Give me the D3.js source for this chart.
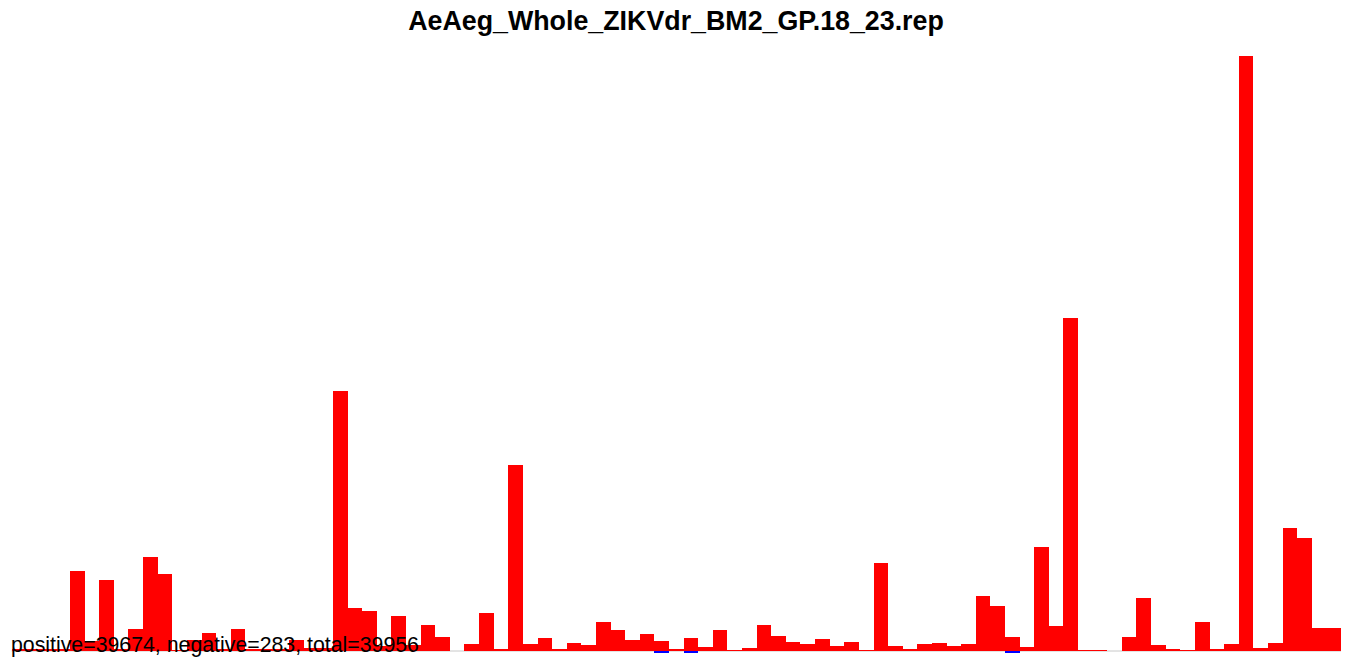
<!DOCTYPE html>
<html>
<head>
<meta charset="utf-8">
<script src="https://cdn.jsdelivr.net/npm/d3@7"></script>
<style>
  body { margin: 0; background: #fff; }
  svg { display: block; }
</style>
</head>
<body>
<div id="chart"></div>
<script>
// chart title and footer counts
const title = "AeAeg_Whole_ZIKVdr_BM2_GP.18_23.rep";
const summary = { positive: 39674, negative: 283, total: 39956 };

// positive (red) bar heights, one per bin
const positives = [
  2, 2, 2, 2, 80, 10, 71, 2, 22, 94,
  77, 1, 11, 18, 2, 22, 2, 2, 2, 11,
  3, 3, 260, 43, 40, 5, 35, 6, 26, 14,
  0, 7, 38, 2, 186, 7, 13, 2, 8, 6,
  29, 21, 11, 17, 10, 2, 13, 4, 21, 1,
  3, 26, 15, 9, 7, 12, 5, 9, 1, 88,
  5, 2, 7, 8, 5, 7, 55, 45, 14, 4,
  104, 25, 333, 1, 1, 0, 14, 53, 6, 2,
  1, 29, 2, 7, 595, 3, 8, 123, 113, 23,
  23
];

// negative (blue) bar depths, same bins
const negatives = [
  1, 1, 1, 1, 1, 1, 1, 1, 1, 1,
  1, 1, 1, 1, 1, 1, 1, 1, 1, 1,
  1, 1, 1, 1, 1, 1, 1, 1, 1, 1,
  0, 1, 1, 1, 1, 1, 1, 1, 1, 1,
  1, 1, 1, 1, 3, 1, 3, 1, 1, 1,
  1, 1, 1, 1, 1, 1, 1, 1, 1, 1,
  1, 1, 1, 1, 1, 1, 1, 1, 3, 1,
  1, 1, 1, 1, 1, 0, 1, 1, 1, 1,
  1, 1, 1, 1, 1, 1, 1, 1, 1, 1,
  1
];

const width = 1349, height = 657;
const baseline = 650.5;

const svg = d3.select("#chart").append("svg")
    .attr("width", width)
    .attr("height", height);

const x = d3.scaleBand()
    .domain(d3.range(positives.length))
    .range([11.6, 1341])
    .padding(0);

const y = d3.scaleLinear()
    .domain([0, d3.max(positives)])
    .range([baseline, 56]);

// light grey zero line
svg.append("line")
    .attr("x1", x(0)).attr("x2", x(positives.length - 1) + x.bandwidth())
    .attr("y1", baseline + 0.5).attr("y2", baseline + 0.5)
    .attr("stroke", "#c8c8c8")
    .attr("stroke-width", 1);

// negative bars hang below the baseline
svg.append("g").selectAll("rect")
    .data(negatives)
    .join("rect")
    .attr("x", (d, i) => x(i))
    .attr("y", baseline)
    .attr("width", x.bandwidth())
    .attr("height", d => y(0) - y(d))
    .attr("fill", "#0000ff")
    .attr("shape-rendering", "crispEdges");

svg.append("g").selectAll("rect")
    .data(positives)
    .join("rect")
    .attr("x", (d, i) => x(i))
    .attr("y", d => y(d))
    .attr("width", x.bandwidth())
    .attr("height", d => y(0) - y(d))
    .attr("fill", "#ff0000")
    .attr("shape-rendering", "crispEdges");

svg.append("text")
    .attr("x", 676)
    .attr("y", 30)
    .attr("text-anchor", "middle")
    .attr("font-family", "Liberation Sans, Arial, sans-serif")
    .attr("font-weight", "bold")
    .attr("font-size", "26.8px")
    .attr("fill", "#000")
    .text(title);

svg.append("text")
    .attr("x", 11)
    .attr("y", 652)
    .attr("font-family", "Liberation Sans, Arial, sans-serif")
    .attr("font-size", "21.3px")
    .attr("fill", "#000")
    .text(`positive=${summary.positive}, negative=${summary.negative}, total=${summary.total}`);
</script>
</body>
</html>
